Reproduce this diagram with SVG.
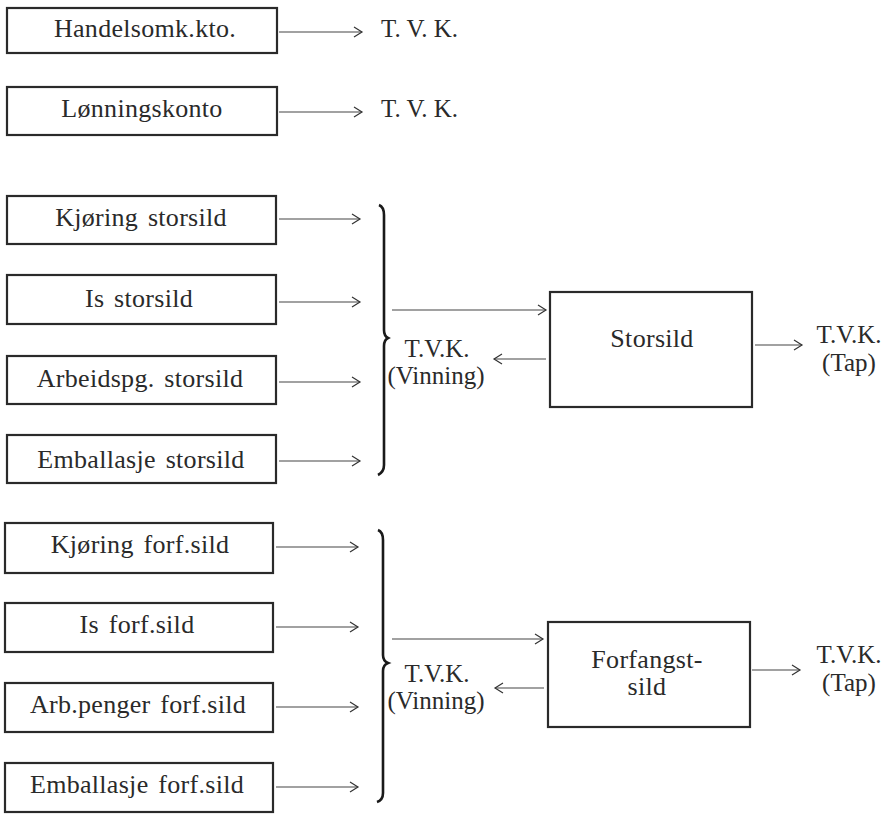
<svg xmlns="http://www.w3.org/2000/svg" width="892" height="815" viewBox="0 0 892 815">
<defs>
<marker id="ah" markerUnits="userSpaceOnUse" markerWidth="12" markerHeight="14" refX="9" refY="6" orient="auto">
<path d="M1,1 L9,6 L1,11" fill="none" stroke="#333" stroke-width="1.2"/>
</marker>
<style>
.box{fill:#fff;stroke:#2a2a2a;stroke-width:2.2}
.lbl{font-family:"Liberation Serif",serif;font-size:26px;fill:#2a2a2a;text-anchor:middle;letter-spacing:0.3px;word-spacing:3px}
.t{font-family:"Liberation Serif",serif;font-size:25px;fill:#2a2a2a}
.tc{font-family:"Liberation Serif",serif;font-size:25px;fill:#2a2a2a;text-anchor:middle}
.ar{stroke:#444;stroke-width:1.1;fill:none;marker-end:url(#ah)}
.br{stroke:#1a1a1a;stroke-width:2.6;fill:none}
</style>
</defs>
<rect width="892" height="815" fill="#fff"/>
<g id="handelsomk"><rect class="box" x="7" y="8" width="270" height="45"/><text class="lbl" x="145" y="37">Handelsomk.kto.</text></g>
<g id="lonningskonto"><rect class="box" x="7" y="87" width="270" height="48"/><text class="lbl" x="142" y="117">Lønningskonto</text></g>
<g id="tvk1"><text class="t" x="381" y="37">T. V. K.</text></g>
<g id="tvk2"><text class="t" x="381" y="117">T. V. K.</text></g>
<g id="kjoring-storsild"><rect class="box" x="7" y="196" width="269" height="48"/><text class="lbl" x="141" y="226">Kjøring storsild</text></g>
<g id="is-storsild"><rect class="box" x="7" y="275" width="269" height="49"/><text class="lbl" x="139" y="307">Is storsild</text></g>
<g id="arbeidspg-storsild"><rect class="box" x="7" y="356" width="269" height="48"/><text class="lbl" x="140" y="387">Arbeidspg. storsild</text></g>
<g id="emballasje-storsild"><rect class="box" x="7" y="435" width="269" height="48"/><text class="lbl" x="141" y="468">Emballasje storsild</text></g>
<g id="kjoring-forf"><rect class="box" x="5" y="523" width="268" height="50"/><text class="lbl" x="140" y="553">Kjøring forf.sild</text></g>
<g id="is-forf"><rect class="box" x="5" y="603" width="268" height="49"/><text class="lbl" x="137" y="633">Is forf.sild</text></g>
<g id="arb-forf"><rect class="box" x="5" y="683" width="268" height="49"/><text class="lbl" x="138" y="713">Arb.penger forf.sild</text></g>
<g id="emb-forf"><rect class="box" x="5" y="763" width="268" height="49"/><text class="lbl" x="137" y="793">Emballasje forf.sild</text></g>
<g id="storsild"><rect class="box" x="550" y="292" width="202" height="115" stroke-width="2.6"/><text class="lbl" x="652" y="347">Storsild</text></g>
<g id="forfangstsild"><rect class="box" x="548" y="622" width="202" height="105" stroke-width="2.6"/><text class="lbl" x="647" y="668">Forfangst-</text><text class="lbl" x="647" y="695">sild</text></g>
<g id="tvk-vinning-1"><text class="tc" x="437" y="357">T.V.K.</text><text class="tc" x="436" y="384">(Vinning)</text></g>
<g id="tvk-tap-1"><text class="tc" x="849" y="343">T.V.K.</text><text class="tc" x="849" y="371">(Tap)</text></g>
<g id="tvk-vinning-2"><text class="tc" x="437" y="682">T.V.K.</text><text class="tc" x="436" y="709">(Vinning)</text></g>
<g id="tvk-tap-2"><text class="tc" x="849" y="663">T.V.K.</text><text class="tc" x="849" y="691">(Tap)</text></g>
<g id="connectors">
<path class="ar" d="M279 32 H362"/>
<path class="ar" d="M279 112 H362"/>
<path class="ar" d="M279 219 H360"/>
<path class="ar" d="M279 302 H360"/>
<path class="ar" d="M279 382 H360"/>
<path class="ar" d="M279 461 H360"/>
<path class="ar" d="M276 547 H358"/>
<path class="ar" d="M276 627 H358"/>
<path class="ar" d="M276 707 H358"/>
<path class="ar" d="M276 787 H358"/>
<path class="br" d="M379 205 Q384 207 384 215 L384 330 Q384 336 388 338 Q384 340 384 346 L384 465 Q384 472 378 475"/>
<path class="br" d="M378 530 Q383 532 383 540 L383 655 Q383 661 388 663 Q383 665 383 671 L383 793 Q383 800 377 802"/>
<path class="ar" d="M392 310 H546"/>
<path class="ar" d="M546 359 H494"/>
<path class="ar" d="M755 345 H802"/>
<path class="ar" d="M392 639 H543"/>
<path class="ar" d="M544 688 H495"/>
<path class="ar" d="M752 670 H800"/>
</g>
</svg>
